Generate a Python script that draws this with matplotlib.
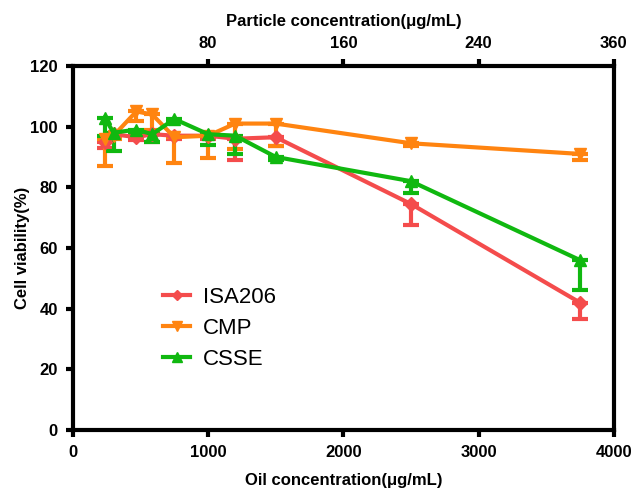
import numpy as np
import matplotlib
matplotlib.use("Agg")
import matplotlib.pyplot as plt
from matplotlib.lines import Line2D

plt.rcParams['font.family'] = ['Liberation Sans', 'DejaVu Sans']

# oil concentration (ug/mL)
oil = [234, 300, 469, 586, 750, 1000, 1200, 1500, 2500, 3750]

isa206 = [95, 97.5, 96.5, 97.5, 97, 97, 96, 96.5, 74.5, 42]
isa206_err = [2, 1, 1, 2.5, 1, 1, 7, 3, 7, 5.5]

cmp_ = [96, 97, 105, 104, 96.5, 97, 101, 101, 94.5, 91]
cmp_err = [9, 1, 3, 5, 8.5, 7.5, 8.5, 7.5, 1, 2]

csse = [103, 98, 99, 97.5, 102.5, 97.5, 97, 90, 82, 56]
csse_err = [6, 6, 1, 2.5, 1, 3.5, 6, 1, 4, 10]

bottom_ticks = [0, 1000, 2000, 3000, 4000]
top_ticks = [1000, 2000, 3000, 4000]
top_labels = ['80', '160', '240', '360']
y_ticks = [0, 20, 40, 60, 80, 100, 120]

series = [
    ('ISA206', isa206, isa206_err, '#F44C4C', 'D', 7),
    ('CMP', cmp_, cmp_err, '#FF8410', 'v', 9),
    ('CSSE', csse, csse_err, '#10B810', '^', 9),
]

fig = plt.figure(figsize=(6.4, 4.92), dpi=100)
ax = fig.add_axes([0.114, 0.126, 0.845, 0.74])

handles = []
for name, vals, err, col, mk, ms in series:
    lower = np.array(err)
    upper = np.zeros(len(err))
    ax.errorbar(oil, vals, yerr=[lower, upper], color=col, marker=mk,
                markersize=ms, linewidth=3, elinewidth=3, capsize=6,
                capthick=3)
    handles.append(Line2D([], [], color=col, marker=mk, markersize=ms - 2,
                          linewidth=3, label=name))

ax.set_xlim(0, 4000)
ax.set_ylim(0, 120)
ax.set_xticks(bottom_ticks)
ax.set_yticks(y_ticks)
for s in ax.spines.values():
    s.set_linewidth(3)
ax.tick_params(width=3, length=5, labelsize=12, pad=6)
for lab in ax.get_xticklabels() + ax.get_yticklabels():
    lab.set_fontweight('bold')

ax.set_xlabel('Oil concentration(μg/mL)', fontsize=12, fontweight='bold', labelpad=9)
ax.set_ylabel('Cell viability(%)', fontsize=12, fontweight='bold', labelpad=0)

top = ax.secondary_xaxis('top')
top.set_xticks(top_ticks)
top.set_xticklabels(top_labels)
top.tick_params(width=3, length=5, labelsize=12, pad=6)
for lab in top.get_xticklabels():
    lab.set_fontweight('bold')
top.set_xlabel('Particle concentration(μg/mL)', fontsize=12, fontweight='bold', labelpad=7)

ax.legend(handles=handles, loc='lower left', bbox_to_anchor=(0.13, 0.11),
          frameon=False, fontsize=16, handlelength=1.2, handletextpad=0.6,
          labelspacing=0.45)

fig.savefig('out.png', dpi=100)
